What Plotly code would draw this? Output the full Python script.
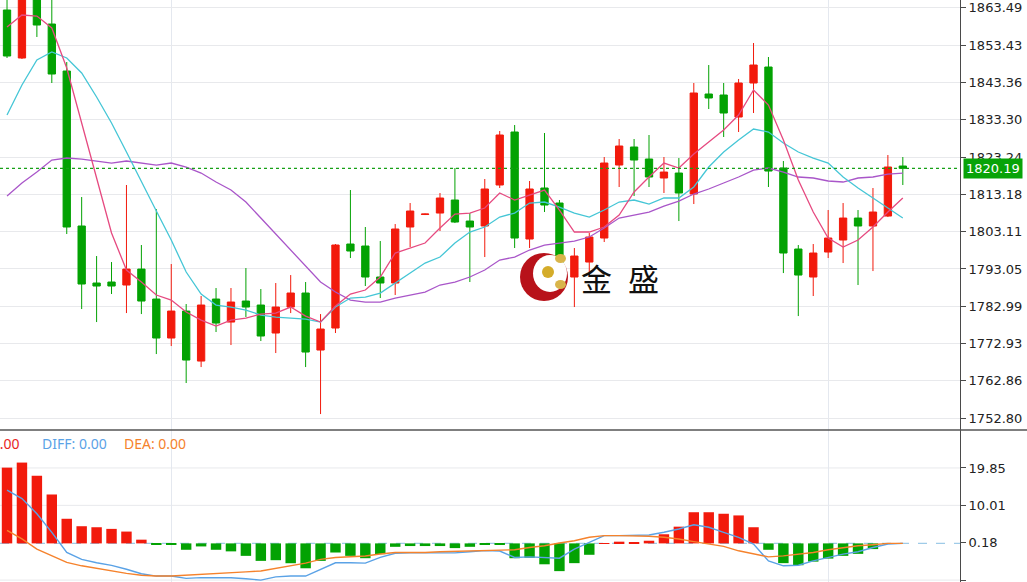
import plotly.graph_objects as go

# ---------------- data ----------------
bar_index = list(range(61))

opens = [1862.90, 1849.95, 1867.50, 1859.12, 1846.44, 1804.63, 1789.25, 1789.52, 1788.71, 1793.02,
         1784.93, 1774.41, 1781.69, 1768.20, 1784.93, 1778.72, 1784.39, 1783.31, 1775.76, 1782.77,
         1786.55, 1771.17, 1777.11, 1799.77, 1799.23, 1790.87, 1789.25, 1804.36, 1807.73, 1808.13,
         1811.64, 1805.97, 1804.63, 1815.69, 1829.99, 1801.12, 1814.88, 1810.83, 1790.87, 1794.91,
         1801.39, 1821.08, 1825.94, 1822.70, 1817.58, 1818.92, 1813.26, 1840.24, 1839.97, 1834.03,
         1843.21, 1847.52, 1820.27, 1798.42, 1790.87, 1797.61, 1800.85, 1806.78, 1804.63, 1807.32,
         1820.81]
highs = [1866.41, 1868.00, 1869.00, 1866.14, 1848.87, 1812.45, 1796.53, 1794.91, 1815.69, 1799.50,
         1809.21, 1794.37, 1783.58, 1785.74, 1787.90, 1787.90, 1793.29, 1787.63, 1789.25, 1791.40,
         1789.52, 1780.88, 1799.77, 1814.34, 1804.36, 1800.58, 1805.16, 1810.83, 1807.99, 1813.53,
         1820.27, 1808.13, 1817.31, 1830.26, 1831.87, 1816.77, 1829.72, 1811.64, 1798.69, 1802.74,
         1823.24, 1828.10, 1828.10, 1829.18, 1823.24, 1822.97, 1843.21, 1848.06, 1843.21, 1844.29,
         1854.00, 1850.22, 1822.16, 1799.50, 1799.77, 1808.94, 1810.83, 1808.94, 1814.88, 1823.78,
         1823.24]
lows = [1849.95, 1849.68, 1855.62, 1843.21, 1802.47, 1782.23, 1778.72, 1786.28, 1781.15, 1780.88,
        1770.09, 1772.25, 1762.27, 1766.58, 1776.03, 1772.52, 1780.07, 1773.60, 1770.36, 1781.15,
        1766.58, 1753.90, 1775.76, 1795.99, 1788.44, 1785.20, 1786.01, 1798.96, 1807.59, 1803.28,
        1805.43, 1789.52, 1796.26, 1814.88, 1798.69, 1798.69, 1808.40, 1788.71, 1782.77, 1790.87,
        1800.31, 1815.15, 1812.72, 1815.15, 1813.53, 1805.97, 1810.56, 1836.19, 1828.64, 1829.99,
        1835.11, 1815.15, 1791.94, 1780.34, 1785.74, 1795.99, 1794.64, 1788.71, 1792.48, 1807.05,
        1815.69]
closes = [1850.49, 1866.95, 1858.85, 1845.63, 1804.36, 1788.98, 1788.44, 1788.44, 1793.02, 1784.39,
          1774.41, 1781.69, 1768.47, 1783.31, 1778.45, 1784.12, 1782.77, 1774.95, 1782.77, 1786.55,
          1770.63, 1776.84, 1799.50, 1797.88, 1790.87, 1789.25, 1803.82, 1808.67, 1807.86, 1812.18,
          1805.70, 1804.36, 1814.61, 1829.18, 1801.39, 1814.61, 1810.29, 1790.87, 1796.53, 1801.66,
          1821.62, 1826.21, 1822.43, 1817.85, 1819.19, 1813.53, 1840.51, 1839.16, 1835.11, 1843.21,
          1848.06, 1819.46, 1797.34, 1791.40, 1797.34, 1801.39, 1806.78, 1804.63, 1808.40, 1820.54,
          1820.19]

ma5 = [1858.32, 1861.55, 1861.28, 1858.05, 1847.25, 1832.41, 1817.85, 1802.74, 1792.75, 1789.52,
       1786.01, 1784.66, 1781.42, 1779.26, 1777.65, 1779.26, 1779.80, 1780.88, 1781.15, 1782.77,
       1780.34, 1778.72, 1783.04, 1786.28, 1787.36, 1790.87, 1797.34, 1798.69, 1800.04, 1804.09,
       1807.86, 1808.13, 1809.48, 1813.53, 1811.64, 1812.99, 1814.34, 1808.94, 1803.01, 1803.01,
       1804.36, 1807.59, 1813.80, 1817.85, 1821.62, 1820.27, 1824.05, 1827.29, 1830.53, 1834.57,
       1841.32, 1837.27, 1827.83, 1817.04, 1808.40, 1801.39, 1798.96, 1800.85, 1804.36, 1808.40,
       1812.18]
ma10 = [1834.57, 1842.67, 1849.41, 1851.57, 1849.95, 1845.90, 1839.43, 1832.41, 1824.59, 1816.50,
        1808.67, 1800.85, 1792.21, 1786.28, 1783.31, 1782.77, 1781.96, 1780.61, 1780.07, 1779.80,
        1779.53, 1778.72, 1782.77, 1785.20, 1785.47, 1786.55, 1789.25, 1791.94, 1794.64, 1796.26,
        1800.04, 1803.01, 1804.36, 1807.05, 1808.13, 1810.83, 1811.10, 1809.75, 1808.13, 1807.05,
        1808.94, 1811.10, 1811.64, 1810.56, 1812.18, 1812.18, 1815.15, 1820.54, 1824.59, 1827.83,
        1830.80, 1829.99, 1827.02, 1824.59, 1822.97, 1821.62, 1817.85, 1814.88, 1812.18, 1809.48,
        1806.78]
ma30 = [1812.72, 1816.23, 1819.19, 1822.43, 1822.97, 1822.70, 1822.16, 1821.62, 1822.16, 1821.62,
        1821.08, 1821.62, 1820.54, 1818.92, 1816.50, 1814.34, 1811.10, 1806.78, 1802.47, 1798.15,
        1794.10, 1789.52, 1786.82, 1784.66, 1784.12, 1784.12, 1785.20, 1786.01, 1786.82, 1788.71,
        1789.52, 1790.87, 1792.75, 1795.45, 1796.26, 1798.15, 1799.50, 1800.04, 1800.58, 1801.66,
        1804.09, 1806.78, 1807.59, 1808.40, 1810.02, 1811.37, 1813.26, 1814.61, 1816.23, 1817.85,
        1819.73, 1820.27, 1819.19, 1817.85, 1817.58, 1816.77, 1816.50, 1817.58, 1817.85, 1818.65,
        1818.92]

macd_hist = [19.94, 21.27, 17.80, 12.87, 6.48, 4.52, 4.25, 3.82, 3.11, 0.98,
             -0.40, -0.40, -1.68, -0.80, -1.68, -2.10, -3.28, -4.60, -4.42, -5.22,
             -6.55, -4.60, -2.40, -3.28, -3.90, -2.83, -0.90, -0.70, -0.70, -0.70,
             -1.24, -0.90, -0.20, -0.40, -3.90, -3.80, -5.50, -7.30, -5.20, -3.00,
             0.05, 0.45, 0.27, 0.70, 2.40, 4.40, 8.20, 8.20, 7.80, 7.36,
             4.25, -1.68, -5.20, -5.75, -4.80, -4.00, -3.28, -2.75, -1.50, -0.10,
             0.00]
diff = [14.0, 11.8, 7.8, 2.9, -2.4, -4.2, -5.1, -5.8, -6.8, -8.0,
        -8.6, -8.6, -9.2, -9.0, -9.05, -9.05, -9.3, -9.66, -8.8, -8.6,
        -8.6, -6.8, -5.1, -5.1, -5.2, -3.7, -2.6, -2.5, -2.5, -2.4,
        -2.5, -2.2, -1.9, -2.0, -3.7, -3.54, -3.7, -3.9, -1.5, 0.27,
        2.04, 2.04, 2.04, 2.2, 2.92, 3.8, 4.9, 4.25, 2.92, 1.6,
        -0.17, -4.6, -5.9, -5.76, -4.6, -3.7, -2.83, -2.2, -1.07, -0.17,
        0.0]
dea = [3.4, 1.2, -1.5, -3.3, -5.0, -5.9, -6.6, -7.3, -7.9, -8.4,
       -8.6, -8.6, -8.4, -8.25, -8.07, -7.8, -7.5, -7.27, -6.6, -5.94,
       -5.2, -4.2, -3.7, -3.5, -3.3, -2.8, -2.4, -2.4, -2.4, -2.2,
       -2.1, -1.95, -1.8, -1.7, -1.68, -1.07, -0.62, 0.1, 0.71, 1.6,
       2.04, 2.04, 2.04, 1.86, 1.6, 1.16, 0.45, -0.17, -0.8, -1.95,
       -2.83, -3.54, -3.28, -2.83, -2.4, -1.68, -1.07, -0.62, -0.35, 0.0,
       0.0]

price_ticks = [1752.80, 1762.86, 1772.93, 1782.99, 1793.05, 1803.11,
               1813.18, 1823.24, 1833.30, 1843.36, 1853.43, 1863.49]
macd_ticks = [-9.66, 0.18, 10.01, 19.85]
session_breaks = [11, 55]

# ---------------- style ----------------
RED = "#f21a0c"
GREEN = "#03a203"
PINK = "#e64a80"
CYAN = "#45c6d6"
PURPLE = "#a956c9"
DIFF_C = "#5aa2e6"
DEA_C = "#f5822c"
GRID = "#e8e9ec"
AXIS = "#4a4a4a"

W, H = 1027, 582
PLOT_W = 960
MAIN_BOTTOM_PX = 430
split = 1 - MAIN_BOTTOM_PX / H

fig = go.Figure()

fig.add_trace(go.Candlestick(
    x=bar_index, open=opens, high=highs, low=lows, close=closes,
    increasing=dict(line=dict(color=RED, width=1), fillcolor=RED),
    decreasing=dict(line=dict(color=GREEN, width=1), fillcolor=GREEN),
    whiskerwidth=0, xaxis="x", yaxis="y", hoverinfo="skip", showlegend=False))

for vals, col in [(ma30, PURPLE), (ma10, CYAN), (ma5, PINK)]:
    fig.add_trace(go.Scatter(x=bar_index, y=vals, mode="lines",
                             line=dict(color=col, width=1.3),
                             xaxis="x", yaxis="y", hoverinfo="skip", showlegend=False))

fig.add_trace(go.Bar(
    x=bar_index, y=macd_hist, width=0.7,
    marker=dict(color=[RED if v >= 0 else GREEN for v in macd_hist], line=dict(width=0)),
    xaxis="x2", yaxis="y2", hoverinfo="skip", showlegend=False))
fig.add_trace(go.Scatter(x=bar_index, y=diff, mode="lines", line=dict(color=DIFF_C, width=1.4),
                         xaxis="x2", yaxis="y2", hoverinfo="skip", showlegend=False))
fig.add_trace(go.Scatter(x=bar_index, y=dea, mode="lines", line=dict(color=DEA_C, width=1.4),
                         xaxis="x2", yaxis="y2", hoverinfo="skip", showlegend=False))

xr = [-0.47, 63.83]
tickfont = dict(family="DejaVu Sans", size=13, color="#222")

shapes = []
# MACD grid lines
for v in macd_ticks:
    if abs(v) > 1:
        shapes.append(dict(type="line", xref="paper", x0=0, x1=1, yref="y2", y0=v, y1=v,
                           line=dict(color=GRID, width=1), layer="below"))
# zero line dashed
shapes.append(dict(type="line", xref="paper", x0=0, x1=1, yref="y2", y0=0, y1=0,
                   line=dict(color="#9fcbe8", width=1.2, dash="dash"), layer="below"))
# last price dotted line
shapes.append(dict(type="line", xref="paper", x0=0, x1=1, yref="y", y0=closes[-1], y1=closes[-1],
                   line=dict(color="#16a016", width=1.2, dash="dot")))
# panel separator
shapes.append(dict(type="line", xref="paper", x0=0, x1=W / PLOT_W, yref="paper", y0=split, y1=split,
                   line=dict(color="#555", width=1.5)))


def px_x(p):
    return p / PLOT_W


def px_y(p):
    return 1 - p / H


# watermark logo
shapes.append(dict(type="circle", xref="paper", yref="paper",
                   x0=px_x(520), x1=px_x(568), y0=px_y(301), y1=px_y(253),
                   fillcolor="#b8121a", line=dict(width=0), layer="above"))
shapes.append(dict(type="circle", xref="paper", yref="paper",
                   x0=px_x(533), x1=px_x(567), y0=px_y(292), y1=px_y(255),
                   fillcolor="white", line=dict(width=0), layer="above"))
shapes.append(dict(type="circle", xref="paper", yref="paper",
                   x0=px_x(542), x1=px_x(554), y0=px_y(278), y1=px_y(266),
                   fillcolor="#d4ac2a", line=dict(width=0), layer="above"))
shapes.append(dict(type="circle", xref="paper", yref="paper",
                   x0=px_x(555), x1=px_x(566), y0=px_y(263), y1=px_y(254),
                   fillcolor="#d9b54a", line=dict(width=0), layer="above"))
shapes.append(dict(type="circle", xref="paper", yref="paper",
                   x0=px_x(555), x1=px_x(566), y0=px_y(289), y1=px_y(280),
                   fillcolor="#d9b54a", line=dict(width=0), layer="above"))

annotations = [
    dict(text=f"{closes[-1]:.2f}", xref="paper", x=1, xanchor="left", xshift=3,
         yref="y", y=closes[-1], yanchor="middle", showarrow=False,
         font=dict(family="DejaVu Sans", size=13, color="white"),
         bgcolor="#08a308", borderpad=2),
    dict(text="MACD: 0.00", xref="paper", x=px_x(22), xanchor="right", yref="paper", y=px_y(443),
         yanchor="middle", showarrow=False, font=dict(family="Noto Sans", size=14, color="#e8261e")),
    dict(text="DIFF: 0.00", xref="paper", x=px_x(40), xanchor="left", yref="paper", y=px_y(443),
         yanchor="middle", showarrow=False, font=dict(family="Noto Sans", size=14, color=DIFF_C)),
    dict(text="DEA: 0.00", xref="paper", x=px_x(122), xanchor="left", yref="paper", y=px_y(443),
         yanchor="middle", showarrow=False, font=dict(family="Noto Sans", size=14, color=DEA_C)),
    dict(text="金", xref="paper", x=px_x(596), xanchor="center", yref="paper", y=px_y(277),
         yanchor="middle", showarrow=False, font=dict(family="Noto Sans CJK SC", size=31, color="#111")),
    dict(text="盛", xref="paper", x=px_x(643), xanchor="center", yref="paper", y=px_y(277),
         yanchor="middle", showarrow=False, font=dict(family="Noto Sans CJK SC", size=31, color="#111")),
]

fig.update_layout(
    width=W, height=H,
    margin=dict(l=0, r=W - PLOT_W, t=0, b=0),
    paper_bgcolor="white", plot_bgcolor="white",
    showlegend=False,
    bargap=0.3,
    xaxis=dict(domain=[0, 1], range=xr, anchor="y", tickvals=session_breaks, showticklabels=False,
               ticks="", showgrid=True, gridcolor="#e4e8ef", zeroline=False, showline=False,
               rangeslider=dict(visible=False), fixedrange=True),
    xaxis2=dict(domain=[0, 1], range=xr, anchor="y2", tickvals=session_breaks, showticklabels=False,
                ticks="", showgrid=True, gridcolor="#e4e8ef", zeroline=False, showline=False,
                matches="x", fixedrange=True),
    yaxis=dict(domain=[split, 1], range=[1749.6, 1865.6], side="right", anchor="x",
               tickvals=price_ticks, ticktext=[f"{v:.2f}" for v in price_ticks],
               ticks="outside", ticklen=5, tickcolor=AXIS, tickfont=tickfont,
               showline=True, linecolor=AXIS, linewidth=1, showgrid=True, gridcolor=GRID,
               zeroline=False, fixedrange=True),
    yaxis2=dict(domain=[0, split], range=[-10.16, 29.84], side="right", anchor="x2",
                tickvals=macd_ticks, ticktext=[f"{v:.2f}" for v in macd_ticks],
                ticks="outside", ticklen=5, tickcolor=AXIS, tickfont=tickfont,
                showline=True, linecolor=AXIS, linewidth=1, showgrid=False,
                zeroline=False, fixedrange=True),
    shapes=shapes,
    annotations=annotations,
)

fig.write_html("out.html", config=dict(displayModeBar=False),
               post_script="document.body.style.margin='0px';")
